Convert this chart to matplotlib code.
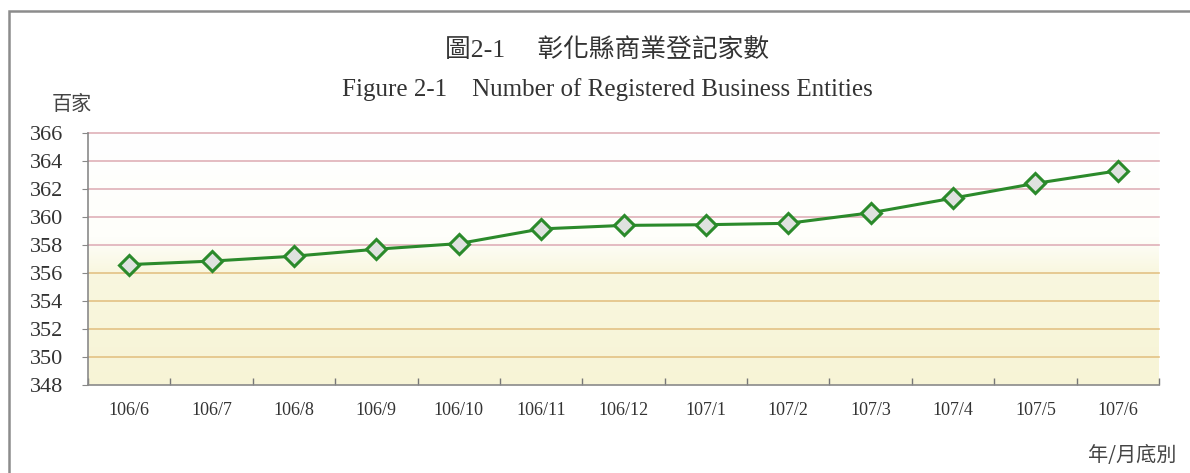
import numpy as np
import matplotlib.pyplot as plt
from matplotlib.colors import to_rgb
from matplotlib.patches import Rectangle

# data (unit: hundreds of entities)
months = ['106/6', '106/7', '106/8', '106/9', '106/10', '106/11', '106/12',
          '107/1', '107/2', '107/3', '107/4', '107/5', '107/6']
entities = [356.6, 356.85, 357.2, 357.7, 358.1, 359.15, 359.4,
            359.45, 359.55, 360.3, 361.35, 362.4, 363.3]
y_ticks = [348, 350, 352, 354, 356, 358, 360, 362, 364, 366]

serif_cjk = ['Liberation Serif', 'Noto Sans CJK TC']
cjk = ['Noto Sans CJK TC', 'DejaVu Sans']

fig = plt.figure(figsize=(11.9, 4.73), dpi=100)
ax = fig.add_axes([88 / 1190, 1 - 385 / 473, (1159 - 88) / 1190, (385 - 133) / 473])

x = np.arange(len(months))

# soft white -> pale yellow background
ys = np.linspace(366, 348, 200)
stops_y = [366, 358.5, 356, 348]
stops_c = [to_rgb('#ffffff'), to_rgb('#fefefa'), to_rgb('#f9f7df'), to_rgb('#f7f4d6')]
grad = np.stack([np.interp(ys[::-1], stops_y[::-1], [c[i] for c in stops_c[::-1]])[::-1]
                 for i in range(3)], axis=-1)
ax.imshow(grad[:, None, :], extent=[-0.5, len(months) - 0.5, 348, 366],
          aspect='auto', zorder=0, interpolation='bilinear')

# horizontal gridlines, pink on the upper part, tan on the lower part
for v in y_ticks[1:]:
    col = '#dfb0b8' if v >= 358 else '#e3c285'
    ax.axhline(v, color=col, linewidth=1.2, zorder=1, clip_on=False)

ax.plot(x, entities, color='#2b8a2b', linewidth=2.2, marker='D', markersize=10,
        markerfacecolor='#dfe2df', markeredgecolor='#2b8a2b', markeredgewidth=2.2, zorder=3)

ax.set_xlim(-0.5, len(months) - 0.5)
ax.set_ylim(348, 366)
ax.set_yticks(y_ticks)
ax.set_yticklabels([str(v) for v in y_ticks], fontfamily='Liberation Serif', fontsize=16,
                   color='#333333')
ax.set_xticks(x)
ax.set_xticklabels(months, fontfamily='Liberation Serif', fontsize=13, color='#333333')
ax.set_xticks(np.arange(len(months) + 1) - 0.5, minor=True)
ax.tick_params(axis='x', which='major', length=0, pad=12)
ax.tick_params(axis='x', which='minor', direction='in', length=5, color='#777777', width=1)
ax.tick_params(axis='y', direction='out', length=4, color='#888888', pad=14)

for s in ['top', 'right']:
    ax.spines[s].set_visible(False)
for s in ['left', 'bottom']:
    ax.spines[s].set_color('#8a8a8a')
    ax.spines[s].set_linewidth(1.2)

fig.text(0.51, 1 - 50 / 473, '圖2-1\u3000 彰化縣商業登記家數', family=serif_cjk,
         fontsize=18.5, ha='center', va='center', color='#333333')
fig.text(0.51, 1 - 90 / 473, 'Figure 2-1    Number of Registered Business Entities',
         family='Liberation Serif', fontsize=18, ha='center', va='center', color='#333333')
fig.text(72 / 1190, 1 - 104 / 473, '百家', family=cjk, fontsize=14.5,
         ha='center', va='center', color='#444444')
fig.text(1132 / 1190, 1 - 455 / 473, '年/月底別', family=cjk, fontsize=14.5,
         ha='center', va='center', color='#444444')

# frame of the scanned page
fig.patches.append(Rectangle((9 / 1190, -0.1), 1.2, 1 - 11 / 473 + 0.1,
                             transform=fig.transFigure, fill=False,
                             edgecolor='#8c8c8c', linewidth=1.8))

plt.savefig('out.png', dpi=100)
